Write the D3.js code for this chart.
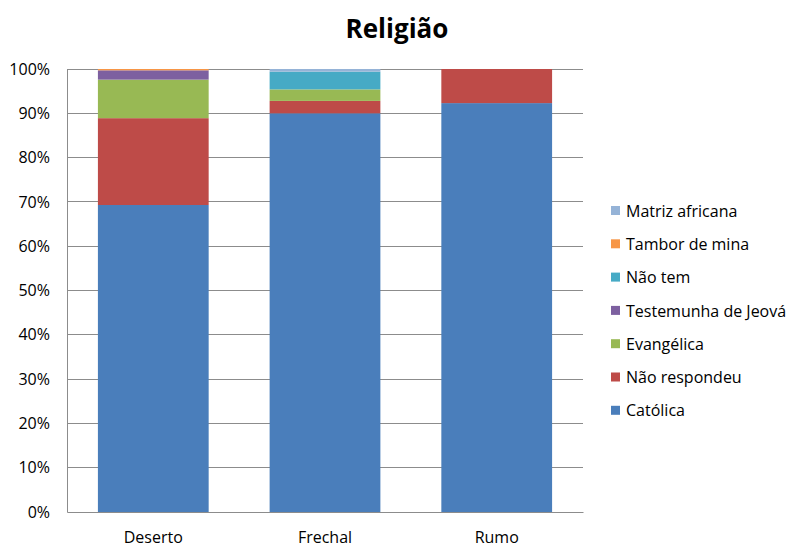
<!DOCTYPE html>
<html lang="pt">
<head>
  <meta charset="UTF-8" />
  <title>Religião</title>
  <script src="https://d3js.org/d3.v7.min.js"></script>
  <style>
    body { margin: 0; background: #fff; font-family: "Open Sans", sans-serif; }
    svg text { fill: #000; }
  </style>
</head>
<body>
<svg width="791" height="549"></svg>
<script>
  // Dados (percentagens)
  const localidades = ["Deserto", "Frechal", "Rumo"];
  const religioes = ["Católica", "Não respondeu", "Evangélica", "Testemunha de Jeová", "Não tem", "Tambor de mina", "Matriz africana"];
  const catolica       = [69.3, 90.0, 92.3];
  const naoRespondeu   = [19.6, 2.8, 7.7];
  const evangelica     = [8.7, 2.6, 0];
  const testemunha     = [2.1, 0, 0];
  const naoTem         = [0, 4.0, 0];
  const tamborDeMina   = [0.3, 0, 0];
  const matrizAfricana = [0, 0.6, 0];
  const cores = ["#4A7EBB", "#BE4B48", "#98B954", "#7D60A0", "#46AAC5", "#F79646", "#95B3D7"];

  const series = [catolica, naoRespondeu, evangelica, testemunha, naoTem, tamborDeMina, matrizAfricana];
  const tabela = localidades.map((loc, i) => {
    const row = { loc };
    religioes.forEach((r, j) => row[r] = series[j][i]);
    return row;
  });

  const svg = d3.select("svg");
  const x = d3.scaleBand().domain(localidades)
    .range([67, 583]).paddingInner(0.355).paddingOuter(0.18);
  const y = d3.scaleLinear().domain([0, 100]).range([512, 69]);
  const color = d3.scaleOrdinal().domain(religioes).range(cores);

  // Linhas de grade
  svg.append("g")
    .selectAll("line")
    .data(d3.range(10, 101, 10))
    .join("line")
    .attr("x1", 67).attr("x2", 583)
    .attr("y1", d => y(d)).attr("y2", d => y(d))
    .attr("stroke", "#8c8c8c").attr("stroke-width", 1)
    .attr("shape-rendering", "crispEdges");

  // Barras empilhadas
  const stack = d3.stack().keys(religioes)(tabela);
  svg.append("g")
    .selectAll("g")
    .data(stack)
    .join("g")
    .attr("fill", d => color(d.key))
    .selectAll("rect")
    .data(d => d)
    .join("rect")
    .attr("x", d => x(d.data.loc))
    .attr("width", x.bandwidth())
    .attr("y", d => y(d[1]))
    .attr("height", d => y(d[0]) - y(d[1]));

  // Eixos
  const yAxis = d3.axisLeft(y).tickValues(d3.range(0, 101, 10))
    .tickFormat(d => d + "%").tickSize(0).tickPadding(17);
  const gy = svg.append("g").attr("transform", "translate(67,0)").call(yAxis);
  gy.select(".domain").attr("stroke", "#8c8c8c");
  gy.selectAll("text").style("font-size", "16px").style("font-family", "Open Sans, sans-serif").attr("fill", "#000");

  const xAxis = d3.axisBottom(x).tickSize(0).tickPadding(20);
  const gx = svg.append("g").attr("transform", "translate(0,512)").call(xAxis);
  gx.select(".domain").attr("stroke", "#8c8c8c");
  gx.selectAll("text").style("font-size", "16px").style("font-family", "Open Sans, sans-serif").attr("fill", "#000");

  // Título
  svg.append("text")
    .attr("x", 397).attr("y", 38)
    .attr("text-anchor", "middle")
    .style("font-size", "26px").style("font-weight", "bold")
    .text("Religião");

  // Legenda (ordem inversa)
  const legenda = svg.append("g")
    .selectAll("g")
    .data(religioes.slice().reverse())
    .join("g")
    .attr("transform", (d, i) => `translate(611,${211 + i * 33.3})`);
  legenda.append("rect")
    .attr("x", 0).attr("y", -5).attr("width", 9).attr("height", 9)
    .attr("fill", d => color(d));
  legenda.append("text")
    .attr("x", 15).attr("y", 0).attr("dy", "0.35em")
    .style("font-size", "16px")
    .text(d => d);
</script>
</body>
</html>
